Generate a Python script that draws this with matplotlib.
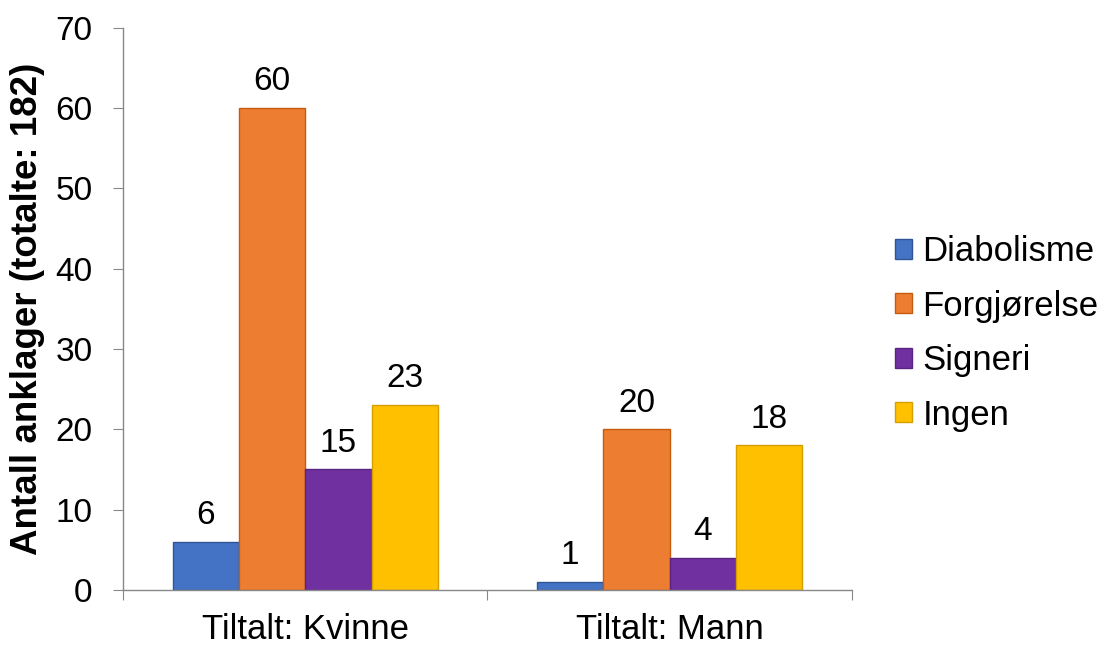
import matplotlib
matplotlib.use("Agg")
import matplotlib.pyplot as plt
import numpy as np

# Data
groups = ["Tiltalt: Kvinne", "Tiltalt: Mann"]
series = ["Diabolisme", "Forgjørelse", "Signeri", "Ingen"]
diabolisme = [6, 1]
forgjorelse = [60, 20]
signeri = [15, 4]
ingen = [23, 18]

colors = ["#4472C4", "#ED7D31", "#7030A0", "#FFC000"]
edges = ["#2F5597", "#C55A11", "#5B2483", "#D4A000"]

plt.rcParams["font.family"] = ["Liberation Sans", "DejaVu Sans"]

fig = plt.figure(figsize=(10.99, 6.46), dpi=100)
ax = fig.add_axes([0.112, 0.087, 0.663, 0.870])

x = np.arange(len(groups))
w = 0.182
values = [diabolisme, forgjorelse, signeri, ingen]
for i, (name, vals) in enumerate(zip(series, values)):
    pos = x + (i - 1.5) * w
    bars = ax.bar(pos, vals, width=w, color=colors[i], edgecolor=edges[i],
                  linewidth=1, label=name)
    for b, v in zip(bars, vals):
        ax.text(b.get_x() + b.get_width() / 2, v + 2.2, str(v),
                ha="center", va="baseline", fontsize=24)

ax.set_xlim(-0.5, 1.5)
ax.set_ylim(0, 70)
ax.set_yticks(range(0, 71, 10))
ax.set_xticks([-0.5, 0.5, 1.5])
ax.set_xticklabels([])
ax.set_xticks(x, minor=True)
ax.set_xticklabels(groups, minor=True, fontsize=25)
ax.tick_params(axis="x", which="minor", length=0, pad=17)
ax.tick_params(axis="x", which="major", length=7, color="#888888", direction="out")
ax.tick_params(axis="y", length=7, color="#888888", labelsize=24, pad=15)

for s in ["top", "right"]:
    ax.spines[s].set_visible(False)
for s in ["left", "bottom"]:
    ax.spines[s].set_color("#888888")
    ax.spines[s].set_linewidth(1)

ax.set_ylabel("Antall anklager (totalte: 182)", fontsize=26.5, fontweight="bold")
ax.yaxis.set_label_coords(-0.107, 0.5)

ax.legend(loc="center left", bbox_to_anchor=(0.814, 0.484),
          bbox_transform=fig.transFigure, frameon=False, borderpad=0,
          borderaxespad=0, fontsize=25, handlelength=0.5, handleheight=0.5,
          handletextpad=0.3, labelspacing=0.62)

fig.savefig("out.png", dpi=100)
